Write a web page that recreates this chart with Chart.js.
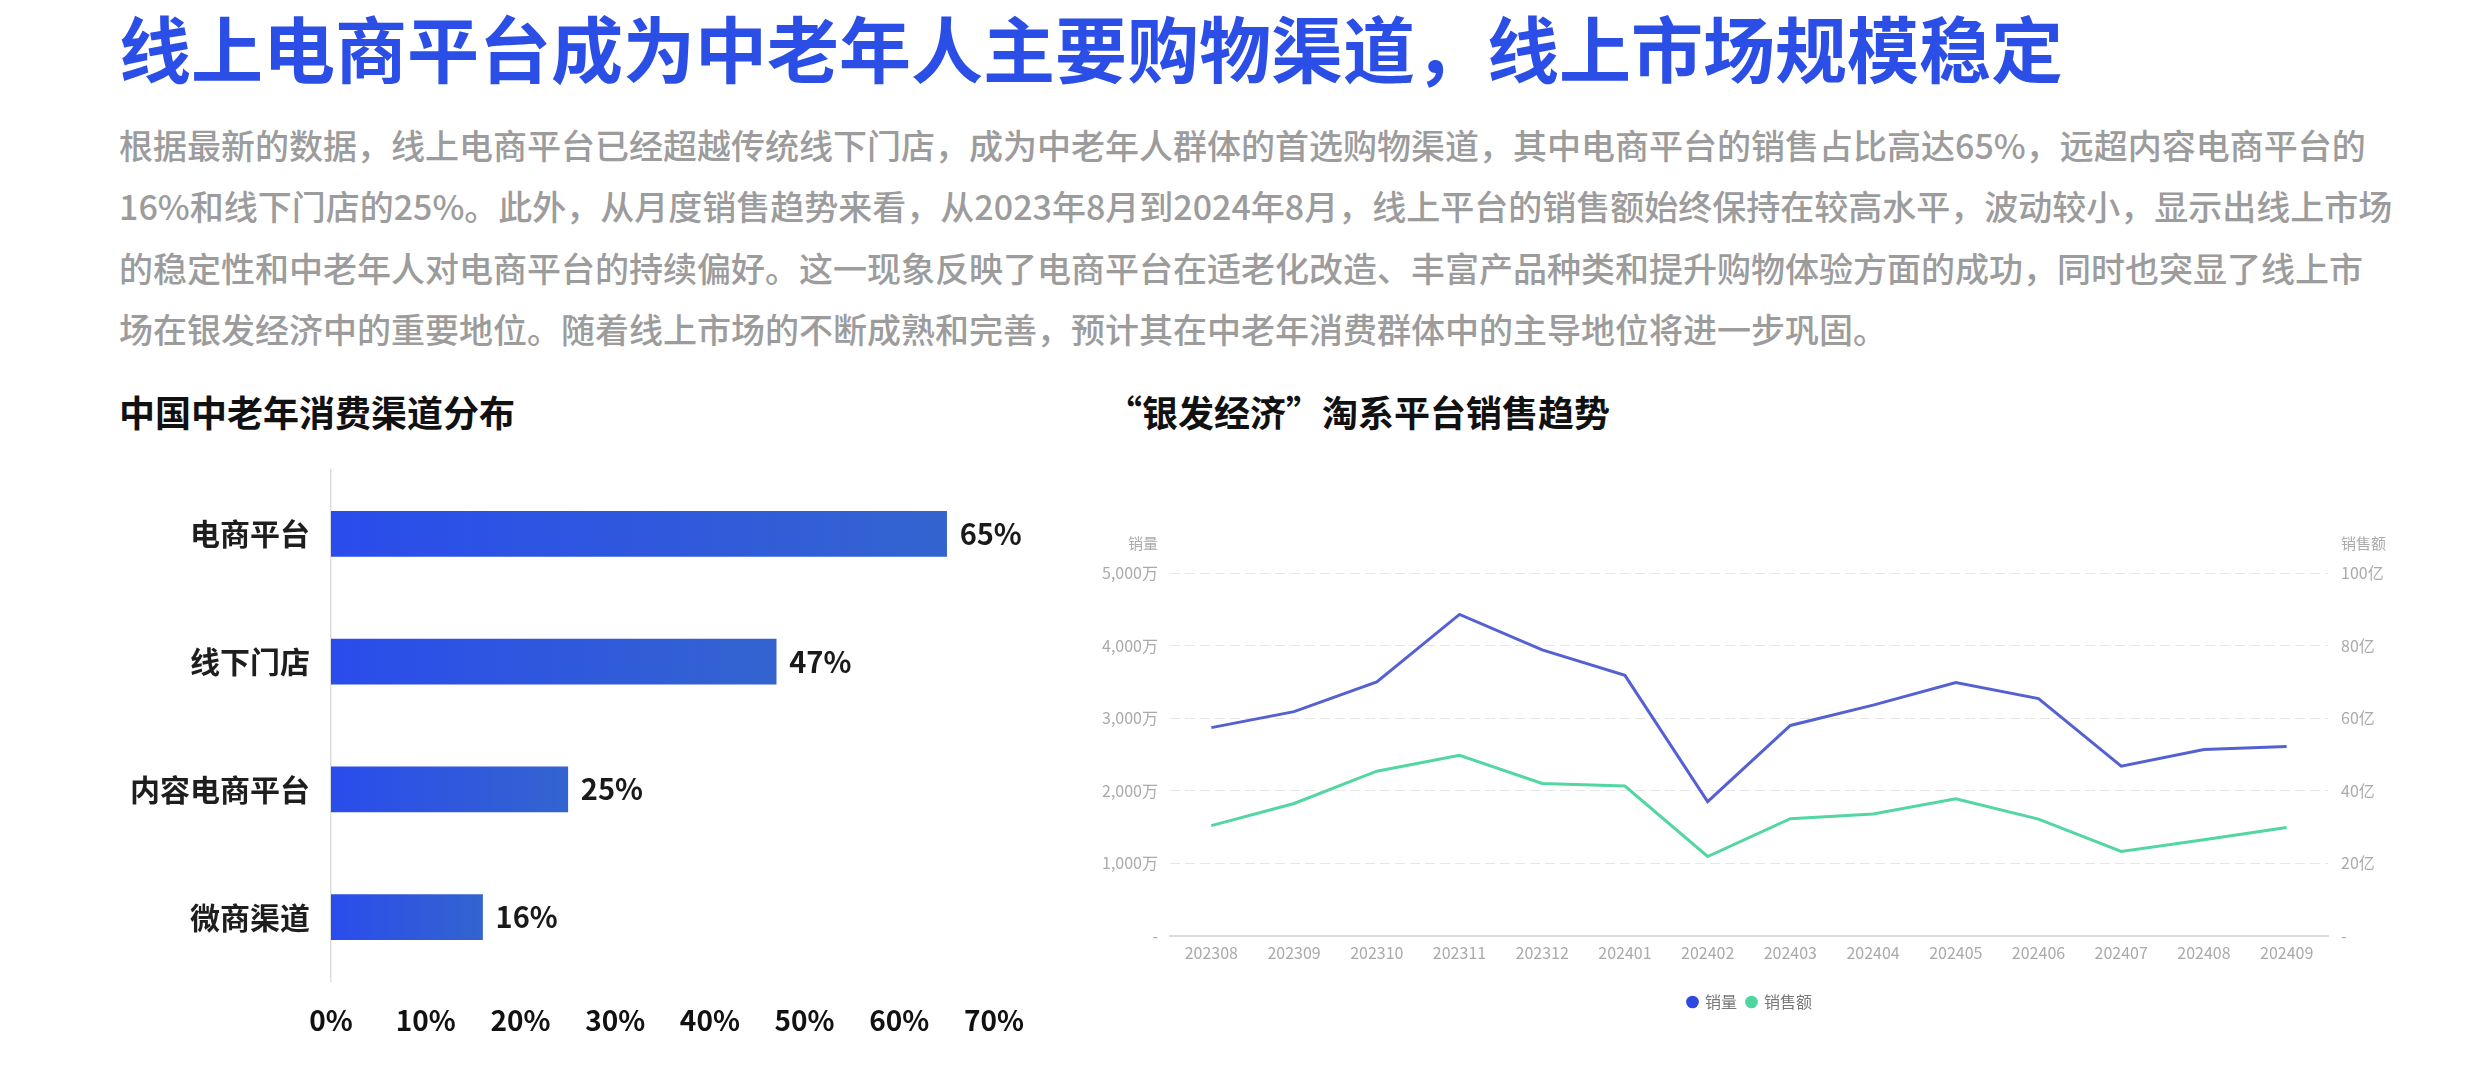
<!DOCTYPE html>
<html lang="zh-CN">
<head>
<meta charset="utf-8">
<title>线上电商平台成为中老年人主要购物渠道</title>
<script src="https://cdn.jsdelivr.net/npm/chart.js@4.4.1/dist/chart.umd.min.js"></script>
<style>
  html, body { margin: 0; padding: 0; background: #fff; }
  body { width: 2482px; height: 1080px; position: relative; overflow: hidden; font-family: "Noto Sans CJK SC", "Noto Sans", sans-serif; }
  .title { position: absolute; left: 119px; top: 3px; font-size: 72px; line-height: 86px; font-weight: 700; color: #2b4fe6; white-space: nowrap; }
  .intro { position: absolute; left: 119px; top: 114px; width: 2244px; font-size: 34px; line-height: 61.3px; font-weight: 500; color: #9c9c9c; }
  .intro div { white-space: nowrap; text-align: justify; text-align-last: justify; }
  .intro div.last { text-align-last: left; }
  .sub { position: absolute; top: 389px; font-size: 36px; line-height: 44px; font-weight: 700; color: #111; white-space: nowrap; }
  #barChart { position: absolute; left: 0; top: 431px; }
  #lineChart { position: absolute; left: 1080px; top: 520px; }
</style>
</head>
<body>
<div class="title">线上电商平台成为中老年人主要购物渠道，线上市场规模稳定</div>
<div class="intro">
  <div>根据最新的数据，线上电商平台已经超越传统线下门店，成为中老年人群体的首选购物渠道，其中电商平台的销售占比高达65%，远超内容电商平台的</div>
  <div>16%和线下门店的25%。此外，从月度销售趋势来看，从2023年8月到2024年8月，线上平台的销售额始终保持在较高水平，波动较小，显示出线上市场</div>
  <div>的稳定性和中老年人对电商平台的持续偏好。这一现象反映了电商平台在适老化改造、丰富产品种类和提升购物体验方面的成功，同时也突显了线上市</div>
  <div class="last">场在银发经济中的重要地位。随着线上市场的不断成熟和完善，预计其在中老年消费群体中的主导地位将进一步巩固。</div>
</div>
<div class="sub" style="left:119px">中国中老年消费渠道分布</div>
<div class="sub" style="left:1106px">“银发经济”淘系平台销售趋势</div>

<canvas id="barChart" width="1080" height="620"></canvas>
<canvas id="lineChart" width="1340" height="520"></canvas>

<script>
// --- Data ---
const channels = ["电商平台", "线下门店", "内容电商平台", "微商渠道"];
const channelShares = [65, 47, 25, 16];
const shareTicks = [0, 10, 20, 30, 40, 50, 60, 70];

const months = ["202308", "202309", "202310", "202311", "202312", "202401", "202402",
  "202403", "202404", "202405", "202406", "202407", "202408", "202409"];
const salesVolume = [2870, 3090, 3500, 4430, 3940, 3590, 1850, 2900, 3180, 3490, 3270, 2340, 2570, 2610]; // 万
const salesAmount = [30.4, 36.5, 45.4, 49.8, 42.0, 41.3, 21.9, 32.3, 33.6, 37.8, 32.2, 23.3, 26.5, 29.9]; // 亿
const volumeTicks = [0, 1000, 2000, 3000, 4000, 5000];
const amountTicks = [0, 20, 40, 60, 80, 100];
const seriesNames = ["销量", "销售额"];

const FONT = '"Noto Sans CJK SC", "Noto Sans", sans-serif';
Chart.defaults.font.family = FONT;
Chart.defaults.devicePixelRatio = 1;

// --- Bar chart: value labels after each bar ---
const barValueLabels = {
  id: "barValueLabels",
  afterDatasetsDraw(chart) {
    const ctx = chart.ctx;
    ctx.save();
    ctx.font = `bold 29px ${FONT}`;
    ctx.fillStyle = "#1a1a1a";
    ctx.textBaseline = "middle";
    chart.getDatasetMeta(0).data.forEach((bar, i) => {
      ctx.fillText(channelShares[i] + "%", bar.x + 13, bar.y);
    });
    ctx.restore();
  }
};

const barGradient = (c) => {
  const chart = c.chart, x = chart.scales.x;
  if (!chart.chartArea || !x) return "#2d52e6";
  const x0 = x.getPixelForValue(0);
  const x1 = x.getPixelForValue(channelShares[c.dataIndex]);
  const g = chart.ctx.createLinearGradient(x0, 0, x1, 0);
  g.addColorStop(0, "#2a4cec");
  g.addColorStop(1, "#3364cf");
  return g;
};

new Chart(document.getElementById("barChart"), {
  type: "bar",
  data: { labels: channels, datasets: [{ data: channelShares, backgroundColor: barGradient, barThickness: 45, borderWidth: 0 }] },
  options: {
    indexAxis: "y",
    responsive: false,
    animation: false,
    layout: { padding: { top: 0, right: 86, bottom: 0, left: 0 } },
    plugins: { legend: { display: false }, tooltip: { enabled: false } },
    scales: {
      x: {
        min: shareTicks[0], max: shareTicks[shareTicks.length - 1],
        afterBuildTicks: (s) => { s.ticks = shareTicks.map(v => ({ value: v })); },
        afterFit: (s) => { s.height = 70; },
        grid: { display: false, drawTicks: false },
        border: { display: false },
        ticks: { padding: 23, color: "#111", font: { size: 28, weight: "bold" }, callback: v => v + "%" }
      },
      y: {
        afterFit: (s) => { s.width = 331; },
        grid: { display: false, drawTicks: false },
        border: { display: true, color: "#dddddd", width: 1.5 },
        ticks: { padding: 21, color: "#1e1e1e", font: { size: 30, weight: "bold" } }
      }
    }
  },
  plugins: [barValueLabels]
});

// --- Line chart: unit titles above both y axes ---
const unitTitles = {
  id: "unitTitles",
  afterDraw(chart) {
    const { ctx, chartArea, scales } = chart;
    ctx.save();
    ctx.font = `15px ${FONT}`;
    ctx.fillStyle = "#aaaaaa";
    ctx.textBaseline = "middle";
    ctx.textAlign = "right";
    ctx.fillText(seriesNames[0], scales.y.right - 12, chartArea.top - 30);
    ctx.textAlign = "left";
    ctx.fillText(seriesNames[1], scales.y1.left + 13, chartArea.top - 30);
    ctx.restore();
  }
};

const legendDots = ["#2f48e0", "#4fd6a0"];

new Chart(document.getElementById("lineChart"), {
  type: "line",
  data: {
    labels: months,
    datasets: [
      { label: seriesNames[0], data: salesVolume, yAxisID: "y", borderColor: "#5461d2", backgroundColor: legendDots[0],
        borderWidth: 3, pointRadius: 0, tension: 0 },
      { label: seriesNames[1], data: salesAmount, yAxisID: "y1", borderColor: "#52d6a2", backgroundColor: legendDots[1],
        borderWidth: 3, pointRadius: 0, tension: 0 }
    ]
  },
  options: {
    responsive: false,
    animation: false,
    layout: { padding: { top: 53, right: 0, bottom: 20, left: 0 } },
    plugins: {
      tooltip: { enabled: false },
      legend: {
        position: "bottom",
        labels: {
          usePointStyle: true, pointStyle: "circle", boxWidth: 9, boxHeight: 9, padding: 10,
          color: "#777", font: { size: 16 },
          generateLabels: (chart) => Chart.defaults.plugins.legend.labels.generateLabels(chart)
            .map((l, i) => Object.assign(l, { fillStyle: legendDots[i], strokeStyle: legendDots[i], lineWidth: 0 }))
        }
      }
    },
    scales: {
      x: {
        offset: true,
        afterFit: (s) => { s.height = 48; },
        grid: { display: false, drawTicks: false },
        border: { display: true, color: "#dcdcdc", width: 2 },
        ticks: { padding: 7, color: "#aaaaaa", font: { size: 16 }, maxRotation: 0, autoSkip: false }
      },
      y: {
        position: "left",
        min: 0, max: volumeTicks[volumeTicks.length - 1],
        afterBuildTicks: (s) => { s.ticks = volumeTicks.map(v => ({ value: v })); },
        afterFit: (s) => { s.width = 90; },
        grid: { drawTicks: false, lineWidth: 1, color: (c) => c.tick && c.tick.value === 0 ? "rgba(0,0,0,0)" : "#e6e6e6" },
        border: { display: false, dash: [10, 5] },
        ticks: { padding: 12, color: "#aaaaaa", font: { size: 16 },
          callback: v => v === 0 ? "-" : v.toLocaleString("en-US") + "万" }
      },
      y1: {
        position: "right",
        min: 0, max: amountTicks[amountTicks.length - 1],
        afterBuildTicks: (s) => { s.ticks = amountTicks.map(v => ({ value: v })); },
        afterFit: (s) => { s.width = 92; },
        grid: { display: false, drawTicks: false },
        border: { display: false },
        ticks: { padding: 13, color: "#aaaaaa", font: { size: 16 },
          callback: v => v === 0 ? "-" : v + "亿" }
      }
    }
  },
  plugins: [unitTitles]
});
</script>
</body>
</html>
